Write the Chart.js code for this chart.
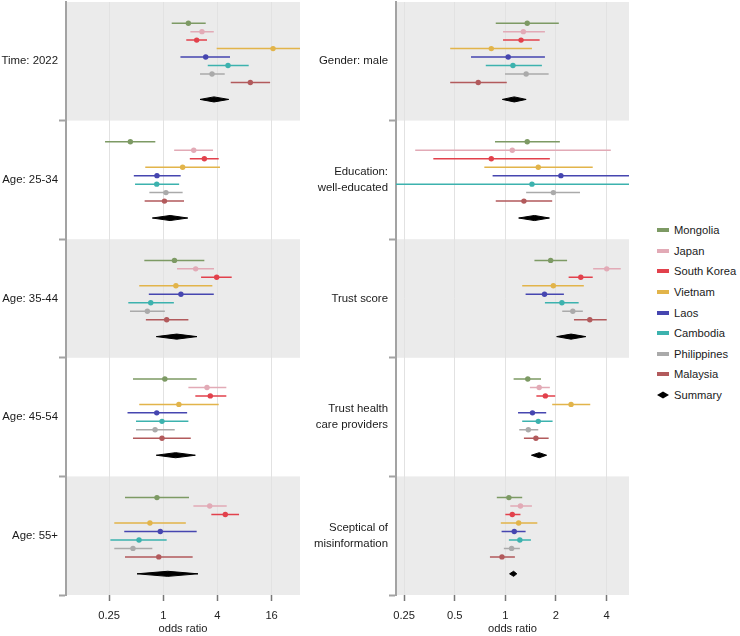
<!DOCTYPE html>
<html>
<head>
<meta charset="utf-8">
<script src="https://cdn.jsdelivr.net/npm/chart.js@4.4.1/dist/chart.umd.min.js"></script>
<style>
  body { margin: 0; background: #fff; font-family: "Liberation Sans", Arial, sans-serif; }
  #wrap { position: relative; width: 740px; height: 636px; }
  canvas { position: absolute; top: 0; }
  #legend { position: absolute; left: 657px; top: 220px; font-size: 11.2px; color: #1a1a1a; }
  .item { height: 20.6px; display: flex; align-items: center; }
  .box { width: 12px; height: 4px; margin-right: 5px; }
</style>
</head>
<body>
<div id="wrap">
  <canvas id="leftChart" width="310" height="636" style="left:0"></canvas>
  <canvas id="rightChart" width="330" height="636" style="left:310px"></canvas>
  <div id="legend"></div>
</div>
<script>
// countries and their colours
const countries = ["Mongolia", "Japan", "South Korea", "Vietnam", "Laos", "Cambodia", "Philippines", "Malaysia"];
const colors = ["#7d9a64", "#e2aab6", "#e2414c", "#e2b44a", "#4646b0", "#3cb2ae", "#aaaaaa", "#b25a5c"];

// left column
const leftLabels = ["Time: 2022", "Age: 25-34", "Age: 35-44", "Age: 45-54", "Age: 55+"];
const leftTicks = [0.25, 1, 4, 16];
const leftEst = [
  [1.90, 2.69, 2.35, 16.6, 2.96, 5.24, 3.48, 9.28],
  [0.43, 2.18, 2.86, 1.64, 0.85, 0.845, 1.07, 1.03],
  [1.33, 2.29, 3.92, 1.38, 1.57, 0.725, 0.665, 1.09],
  [1.04, 3.06, 3.33, 1.49, 0.845, 0.967, 0.81, 0.967],
  [0.85, 3.28, 4.89, 0.71, 0.926, 0.537, 0.46, 0.89]
];
const leftLow = [
  [1.24, 2.00, 1.80, 3.92, 1.55, 3.12, 2.56, 5.62],
  [0.225, 1.32, 1.97, 0.63, 0.47, 0.485, 0.70, 0.62],
  [0.615, 1.42, 2.63, 0.54, 0.69, 0.408, 0.426, 0.64],
  [0.46, 1.90, 2.27, 0.54, 0.40, 0.497, 0.497, 0.46],
  [0.375, 2.16, 3.42, 0.285, 0.368, 0.258, 0.285, 0.375]
];
const leftHigh = [
  [2.96, 3.64, 3.06, 40, 5.52, 8.9, 4.82, 15.4],
  [0.815, 3.57, 4.13, 4.27, 1.56, 1.50, 1.64, 1.70],
  [2.86, 3.66, 5.76, 3.51, 3.64, 1.31, 1.04, 1.90],
  [2.35, 5.02, 5.02, 4.13, 1.84, 1.90, 1.34, 2.02],
  [1.93, 5.07, 6.95, 1.78, 2.35, 1.09, 0.755, 2.12]
];
const leftSumEst = [3.66, 1.19, 1.41, 1.37, 1.12];
const leftSumLow = [2.56, 0.755, 0.835, 0.835, 0.51];
const leftSumHigh = [5.34, 1.87, 2.37, 2.27, 2.43];

// right column
const rightLabels = ["Gender: male", ["Education:", "well-educated"], "Trust score", ["Trust health", "care providers"], ["Sceptical of", "misinformation"]];
const rightTicks = [0.25, 0.5, 1, 2, 4];
const rightEst = [
  [1.35, 1.28, 1.24, 0.825, 1.04, 1.11, 1.33, 0.69],
  [1.35, 1.10, 0.825, 1.57, 2.14, 1.44, 1.93, 1.29],
  [1.86, 4.01, 2.81, 1.93, 1.71, 2.17, 2.52, 3.18],
  [1.36, 1.59, 1.73, 2.46, 1.45, 1.57, 1.37, 1.52],
  [1.05, 1.23, 1.10, 1.20, 1.13, 1.22, 1.09, 0.955]
];
const rightLow = [
  [0.877, 0.969, 0.969, 0.47, 0.625, 0.765, 0.995, 0.47],
  [0.868, 0.291, 0.373, 0.75, 0.84, 0.15, 1.33, 0.877],
  [1.49, 3.33, 2.38, 1.26, 1.32, 1.72, 2.18, 2.56],
  [1.12, 1.40, 1.53, 1.90, 1.19, 1.26, 1.21, 1.29],
  [0.89, 1.07, 1.00, 0.94, 0.95, 1.05, 0.98, 0.81]
];
const rightHigh = [
  [2.08, 1.72, 1.60, 1.44, 1.72, 1.65, 1.81, 1.02],
  [2.11, 4.24, 1.84, 3.31, 6.5, 8.0, 2.78, 1.90],
  [2.33, 4.86, 3.31, 2.93, 2.23, 2.73, 2.89, 4.01],
  [1.63, 1.84, 1.98, 3.20, 1.75, 1.91, 1.57, 1.81],
  [1.26, 1.44, 1.23, 1.55, 1.32, 1.42, 1.22, 1.14]
];
const rightSumEst = [1.13, 1.49, 2.46, 1.59, 1.12];
const rightSumLow = [0.96, 1.20, 2.02, 1.43, 1.06];
const rightSumHigh = [1.33, 1.83, 3.01, 1.76, 1.17];

const PANEL = 14;      // y units per panel
const FONT = "'Liberation Sans', Arial, sans-serif";
const GAP = { x: NaN, y: NaN };

// grey background for panels 1, 3, 5
const panelBands = {
  id: "panelBands",
  beforeDraw(chart) {
    const { ctx, chartArea, scales } = chart;
    ctx.save();
    ctx.fillStyle = "#ebebeb";
    for (let p = 0; p < 5; p += 2) {
      const y1 = scales.y.getPixelForValue(p * PANEL);
      const y2 = scales.y.getPixelForValue((p + 1) * PANEL);
      ctx.fillRect(chartArea.left, y1, chartArea.right - chartArea.left, y2 - y1);
    }
    ctx.restore();
  }
};

// no extra room for overhanging labels
function noPad(s) {
  s.paddingTop = 0;
  s.paddingBottom = 0;
  s.paddingLeft = 0;
  s.paddingRight = 0;
}

function buildDatasets(est, low, high, sEst, sLow, sHigh) {
  const sets = countries.map((name, c) => {
    const data = [];
    for (let p = 0; p < 5; p++) {
      const y = p * PANEL + 2.5 + c;
      data.push({ x: low[p][c], y }, { x: est[p][c], y }, { x: high[p][c], y }, { ...GAP });
    }
    return {
      label: name,
      data,
      showLine: true,
      spanGaps: false,
      borderColor: colors[c],
      backgroundColor: colors[c],
      borderWidth: 1.5,
      pointRadius: ctx => (ctx.index % 4 === 1 ? 2.7 : 0),
      pointBorderWidth: 0,
      pointHoverRadius: 0
    };
  });
  for (let p = 0; p < 5; p++) {
    const y = p * PANEL + 11.5;
    const h = 0.3;
    sets.push({
      label: "Summary",
      data: [
        { x: sLow[p], y }, { x: sEst[p], y: y - h }, { x: sHigh[p], y },
        { x: sEst[p], y: y + h }, { x: sLow[p], y }
      ],
      showLine: true,
      fill: "shape",
      tension: 0,
      borderColor: "#000",
      backgroundColor: "#000",
      borderWidth: 1,
      pointRadius: 0
    });
  }
  return sets;
}

function makeChart(id, labels, ticks, xmin, xmax, labelWidth, padRight, est, low, high, sEst, sLow, sHigh) {
  return new Chart(document.getElementById(id), {
    type: "scatter",
    data: { datasets: buildDatasets(est, low, high, sEst, sLow, sHigh) },
    options: {
      responsive: false,
      animation: false,
      devicePixelRatio: 1,
      events: [],
      layout: { padding: { top: 2, right: padRight, bottom: 0, left: 0 } },
      plugins: { legend: { display: false }, tooltip: { enabled: false } },
      scales: {
        x: {
          type: "logarithmic",
          min: xmin,
          max: xmax,
          afterBuildTicks: s => { s.ticks = ticks.map(v => ({ value: v })); },
          afterFit: s => { s.height = 41; noPad(s); },
          ticks: { color: "#222", font: { family: FONT, size: 11.2 }, padding: 8, callback: v => String(v), maxRotation: 0 },
          grid: { color: "#e2e2e2", lineWidth: 1, tickLength: 6, tickColor: "#777", tickWidth: 1.5 },
          border: { display: false },
          title: { display: true, text: "odds ratio", color: "#222", font: { family: FONT, size: 11.2 }, padding: { top: 0, bottom: 0 } }
        },
        y: {
          type: "linear",
          position: "left",
          reverse: true,
          min: 0,
          max: 5 * PANEL,
          weight: 0,
          afterBuildTicks: s => { s.ticks = [1, 2, 3, 4, 5].map(p => ({ value: p * PANEL })); },
          afterFit: s => { s.width = 7; noPad(s); },
          ticks: { display: false },
          grid: { drawOnChartArea: false, tickLength: 7, tickColor: "#a3a3a3", tickWidth: 2 },
          border: { display: true, color: "#a3a3a3", width: 2 }
        },
        yl: {
          type: "linear",
          position: "left",
          reverse: true,
          min: 0,
          max: 5 * PANEL,
          weight: 1,
          afterBuildTicks: s => { s.ticks = [0, 1, 2, 3, 4].map(p => ({ value: p * PANEL + PANEL / 2 })); },
          afterFit: s => { s.width = labelWidth; noPad(s); },
          ticks: {
            color: "#1a1a1a",
            padding: 1,
            font: { family: FONT, size: 11.4, lineHeight: 1.44 },
            callback: (v, i) => labels[i]
          },
          grid: { display: false, drawTicks: false },
          border: { display: false }
        }
      }
    },
    plugins: [panelBands]
  });
}

makeChart("leftChart", leftLabels, leftTicks, 0.0828, 33.1, 59, 10,
  leftEst, leftLow, leftHigh, leftSumEst, leftSumLow, leftSumHigh);
makeChart("rightChart", rightLabels, rightTicks, 0.2237, 5.44, 79, 11,
  rightEst, rightLow, rightHigh, rightSumEst, rightSumLow, rightSumHigh);

// legend
const legend = document.getElementById("legend");
countries.forEach((name, i) => {
  const row = document.createElement("div");
  row.className = "item";
  row.innerHTML = `<span class="box" style="background:${colors[i]}"></span>${name}`;
  legend.appendChild(row);
});
const sumRow = document.createElement("div");
sumRow.className = "item";
sumRow.innerHTML = `<svg width="12" height="8" style="margin-right:5px"><polygon points="0,4 6,0.5 12,4 6,7.5" fill="#000"/></svg>Summary`;
legend.appendChild(sumRow);
</script>
</body>
</html>
